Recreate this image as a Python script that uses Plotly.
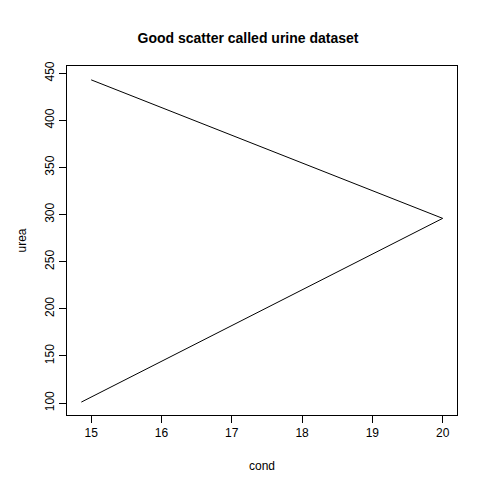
import plotly.graph_objects as go

cond = [14.86, 20.0, 15.0]
urea = [101, 296, 443]
xticks = [15, 16, 17, 18, 19, 20]
yticks = [100, 150, 200, 250, 300, 350, 400, 450]

fig = go.Figure(go.Scatter(x=cond, y=urea, mode="lines",
                           line=dict(color="black", width=1)))
ax = dict(showgrid=False, zeroline=False, showline=True, mirror=True,
          linecolor="black", linewidth=1, ticks="outside", ticklen=7,
          tickcolor="black", tickfont=dict(size=12, color="black"), automargin=False)
fig.update_xaxes(**ax, range=[14.656, 20.204], tickvals=xticks,
                 title=dict(text="cond", font=dict(size=12, color="black"), standoff=22))
fig.update_yaxes(**ax, range=[87.3, 457.7], tickvals=yticks, tickangle=-90,
                 title=dict(text="urea", font=dict(size=12, color="black"), standoff=14))
fig.update_layout(width=480, height=480, plot_bgcolor="white", paper_bgcolor="white",
                  margin=dict(l=59, r=31, t=58, b=73, autoexpand=False),
                  font=dict(family="Liberation Sans, Arial, sans-serif"),
                  title=dict(text="<b>Good scatter called urine dataset</b>", x=0.5, xanchor="center",
                             y=0.937, yanchor="middle", automargin=False,
                             font=dict(size=14, color="black")),
                  showlegend=False)
fig.write_html("out.html")
